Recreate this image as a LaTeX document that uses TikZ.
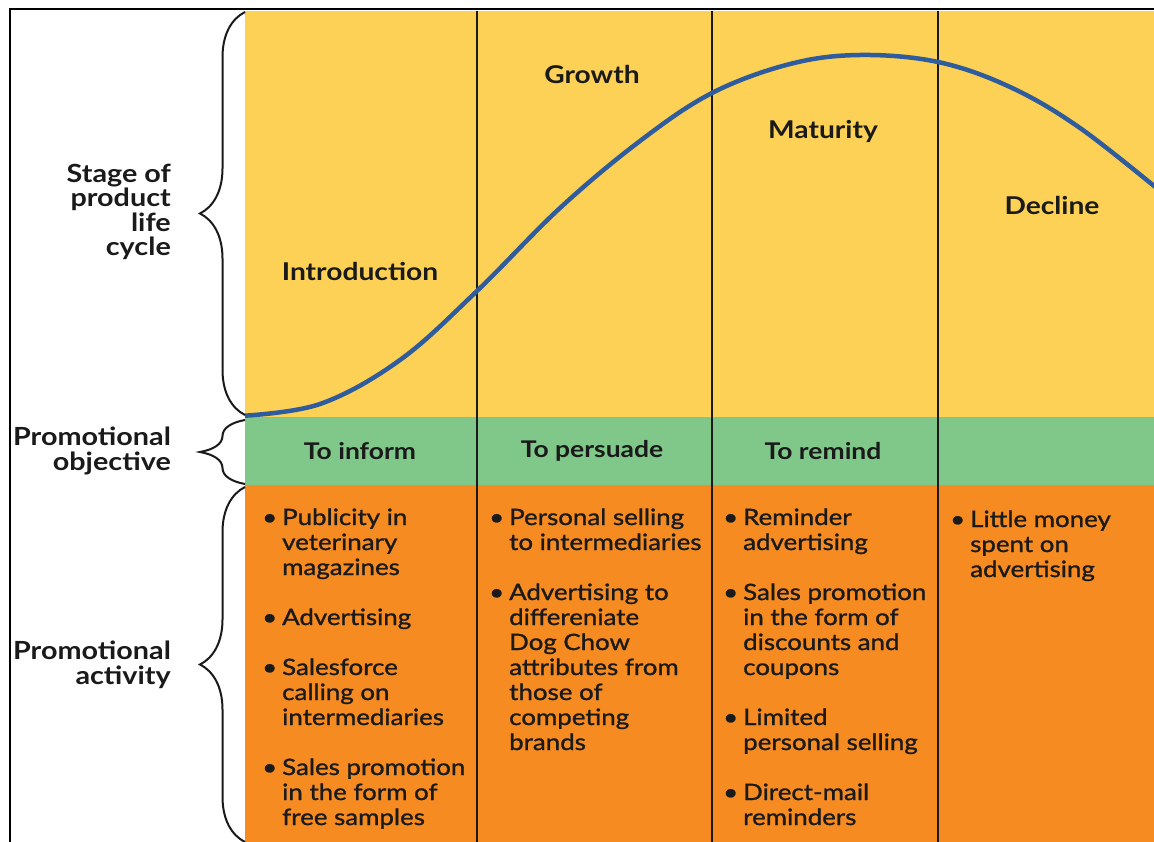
\documentclass[tikz,border=0pt]{standalone}
\usepackage{fontspec}
\setmainfont{Lato}[FakeStretch=1.15]
\newfontfamily\actfont{Lato}[FakeStretch=1.15, FakeBold=1.2]
\usetikzlibrary{decorations.pathreplacing,positioning}
\definecolor{plcyellow}{HTML}{FDD155}
\definecolor{plcgreen}{HTML}{80C78A}
\definecolor{plcorange}{HTML}{F68B22}
\definecolor{plcblue}{HTML}{2F5C9C}
\definecolor{plcink}{HTML}{1A1A1A}
\newcommand{\pbul}{\makebox[20pt][l]{\textbullet}}
\tikzset{
    stage/.style={text=plcink, font=\fontsize{24.5}{26}\selectfont\bfseries},
    objective/.style={text=plcink, font=\fontsize{23}{25}\selectfont\bfseries},
    rowlabel/.style={text=plcink, align=right, anchor=east, inner sep=0pt,
        font=\fontsize{25}{24.5}\selectfont\bfseries},
    activity/.style={text=plcink, anchor=base west, inner sep=0pt,
        font=\actfont\fontsize{22.5}{25}\selectfont},
    sidebrace/.style={draw=plcink, line width=2pt, decorate,
        decoration={brace, amplitude=45pt}},
    divider/.style={draw=plcink, line width=1.4pt},
}
\begin{document}
\begin{tikzpicture}[x=1pt, y=-1pt]
    \useasboundingbox (0,0) rectangle (1154,842);
    % bands
    \fill[plcyellow] (245,11) rectangle (1154,417);
    \fill[plcgreen] (245,417) rectangle (1154,485);
    \fill[plcorange] (245,485) rectangle (1154,842);
    \draw[line width=1.8pt] (10,842) -- (10,9) -- (1154,9);
    % column borders
    \foreach \x/\n in {477/a, 712/b, 938/c} {
        \coordinate (top\n) at (\x,11);
        \coordinate (bot\n) at (\x,842);
        \draw[divider] (top\n) -- (bot\n);
    }
    % sales curve
    \begin{scope}
        \clip (245,11) rectangle (1154,842);
        \draw[plcblue, line width=4.5pt] plot[smooth, tension=0.6] coordinates {
            (240,416) (320,404) (400,360) (477,291) (560,208) (640,141)
            (712,93) (790,64) (860,55) (938,62) (1010,87) (1080,128) (1165,195)};
    \end{scope}
    % braces
    \coordinate (stagetop) at (245,12);
    \coordinate (stagebot) at (245,415);
    \coordinate (objtop) at (245,420);
    \coordinate (objbot) at (245,484);
    \coordinate (acttop) at (245,487);
    \coordinate (actbot) at (245,842);
    \draw[sidebrace] (stagebot) -- (stagetop);
    \draw[sidebrace] (objbot) -- (objtop);
    \draw[sidebrace] (actbot) -- (acttop);
    % row labels
    \node[rowlabel] at (171,212) (stagelabel) {Stage of\\product\\life\\cycle};
    \node[rowlabel] at (171,451) (objlabel) {Promotional\\objective};
    \node[rowlabel] at (171,665) (actlabel) {Promotional\\activity};
    % stages
    \node[stage] at (360,271) (intro) {Introduction};
    \node[stage] at (592,74) (growth) {Growth};
    \node[stage] at (823,131) (maturity) {Maturity};
    \node[stage] at (1052,205) (decline) {Decline};
    % objectives
    \node[objective] at (360,451) (inform) {To inform};
    \node[objective] at (592,451) (persuade) {To persuade};
    \node[objective] at (823,451) (remind) {To remind};
    % activities
    \node[activity] at (262,525) (introact) {\begin{tabular}[t]{@{}l@{}l@{}}
        \pbul & Publicity in\\ & veterinary\\ & magazines\\[25pt]
        \pbul & Advertising\\[25pt]
        \pbul & Salesforce\\ & calling on\\ & intermediaries\\[25pt]
        \pbul & Sales promotion\\ & in the form of\\ & free samples
    \end{tabular}};
    \node[activity] at (489,525) (growthact) {\begin{tabular}[t]{@{}l@{}l@{}}
        \pbul & Personal selling\\ & to intermediaries\\[25pt]
        \pbul & Advertising to\\ & differeniate\\ & Dog Chow\\
            & attributes from\\ & those of\\ & competing\\ & brands
    \end{tabular}};
    \node[activity] at (723,525) (matureact) {\begin{tabular}[t]{@{}l@{}l@{}}
        \pbul & Reminder\\ & advertising\\[25pt]
        \pbul & Sales promotion\\ & in the form of\\ & discounts and\\ & coupons\\[25pt]
        \pbul & Limited\\ & personal selling\\[25pt]
        \pbul & Direct-mail\\ & reminders
    \end{tabular}};
    \node[activity] at (950,527) (declineact) {\begin{tabular}[t]{@{}l@{}l@{}}
        \pbul & Little money\\ & spent on\\ & advertising
    \end{tabular}};
\end{tikzpicture}
\end{document}
